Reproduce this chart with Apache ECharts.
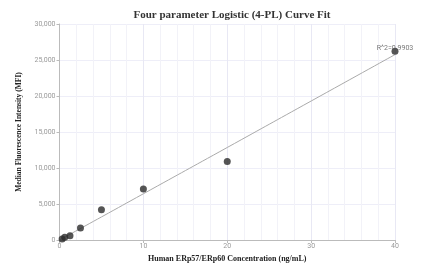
<!DOCTYPE html>
<html>
<head>
<meta charset="utf-8">
<script src="https://cdn.jsdelivr.net/npm/echarts@6/dist/echarts.min.js"></script>
<style>
  html, body { margin: 0; padding: 0; background: #fff; }
  #chart { width: 428px; height: 273px; }
</style>
</head>
<body>
<div id="chart"></div>
<script>
var concentrations = [0.3125, 0.625, 1.25, 2.5, 5, 10, 20, 40];
var mfiValues = [150, 370, 600, 1650, 4200, 7100, 10900, 26200];
var fitX = [0, 5, 10, 20, 30, 40];
var fitY = [0, 3200, 6420, 12850, 19300, 25750];
var rSquaredText = 'R^2=0.9903';

var pointData = concentrations.map(function(x, i) { return [x, mfiValues[i]]; });
var fitData = fitX.map(function(x, i) { return [x, fitY[i]]; });
// label only on the top point
pointData[pointData.length - 1] = {
  value: pointData[pointData.length - 1],
  label: { show: true, formatter: rSquaredText, position: 'top', distance: -4, color: '#555', fontSize: 7, fontFamily: 'Roboto' }
};

var chart = echarts.init(document.getElementById('chart'));
chart.setOption({
  backgroundColor: '#fff',
  animation: false,
  title: {
    text: 'Four parameter Logistic (4-PL) Curve Fit',
    left: 227, top: 5, textAlign: 'center',
    textStyle: { fontFamily: 'Liberation Serif', fontWeight: 'bold', fontSize: 11, color: '#333' }
  },
  grid: { left: 59.5, right: 33, top: 24, bottom: 33 },
  xAxis: {
    type: 'value', min: 0, max: 40, interval: 10,
    name: 'Human ERp57/ERp60 Concentration (ng/mL)',
    nameLocation: 'middle', nameGap: 6,
    nameTextStyle: { fontFamily: 'Liberation Serif', fontWeight: 'bold', fontSize: 8, color: '#222' },
    axisLine: { lineStyle: { color: '#bbb' } },
    axisTick: { length: 3, lineStyle: { color: '#bbb' } },
    axisLabel: { color: '#999', fontSize: 7, margin: 3, fontFamily: 'Roboto' },
    splitLine: { show: true, lineStyle: { color: '#e8e8f4', width: 1 } },
    minorTick: { show: false, splitNumber: 5 },
    minorSplitLine: { show: true, lineStyle: { color: '#f2f2f8', width: 1 } }
  },
  yAxis: {
    type: 'value', min: 0, max: 30000, interval: 5000,
    name: 'Median Fluorescence Intensity (MFI)',
    nameLocation: 'middle', nameGap: 30,
    nameTextStyle: { fontFamily: 'Liberation Serif', fontWeight: 'bold', fontSize: 7.5, color: '#222' },
    axisLine: { show: true, lineStyle: { color: '#bbb' } },
    axisTick: { show: true, length: 3, lineStyle: { color: '#bbb' } },
    axisLabel: {
      color: '#999', fontSize: 7, margin: 4, fontFamily: 'Roboto',
      formatter: function(v) { return v.toLocaleString('en-US'); }
    },
    splitLine: { show: true, lineStyle: { color: '#eeeef8', width: 1 } }
  },
  series: [
    {
      type: 'line', data: fitData, smooth: true, showSymbol: false,
      lineStyle: { color: '#aaa', width: 1 }, z: 2
    },
    {
      type: 'scatter', data: pointData, symbolSize: 7,
      itemStyle: { color: '#2a2a2a' }, z: 3
    }
  ]
});
</script>
</body>
</html>
